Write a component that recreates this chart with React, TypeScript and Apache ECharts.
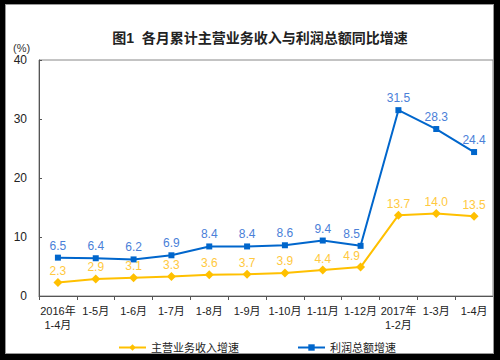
import React, { useEffect, useRef } from "react";
import * as echarts from "echarts";

const categories = [
  "2016年\n1-4月", "1-5月", "1-6月", "1-7月", "1-8月", "1-9月",
  "1-10月", "1-11月", "1-12月", "2017年\n1-2月", "1-3月", "1-4月",
];
const revenueGrowth = [2.3, 2.9, 3.1, 3.3, 3.6, 3.7, 3.9, 4.4, 4.9, 13.7, 14.0, 13.5];
const profitGrowth = [6.5, 6.4, 6.2, 6.9, 8.4, 8.4, 8.6, 9.4, 8.5, 31.5, 28.3, 24.4];
const seriesNames = ["主营业务收入增速", "利润总额增速"];
const titleText = "图1  各月累计主营业务收入与利润总额同比增速";

const FONT = "'Liberation Sans', 'Noto Sans CJK SC', sans-serif";

const withOffset = (vals: number[], idx: number, dx: number) =>
  vals.map((v, i) => (i === idx ? { value: v, label: { offset: [dx, 0] } } : v));

export default function App() {
  const ref = useRef<HTMLDivElement>(null);
  useEffect(() => {
    document.body.style.margin = "0";
    const chart = echarts.init(ref.current!, null, { renderer: "svg" });
    chart.setOption({
      animation: false,
      backgroundColor: "#fff",
      textStyle: { fontFamily: FONT },
      title: {
        text: titleText,
        left: 255,
        textAlign: "center",
        top: 26,
        textStyle: { fontSize: 14, fontWeight: "bold", color: "#222", fontFamily: FONT },
      },
      graphic: [
        {
          type: "text",
          left: 13,
          top: 42,
          style: { text: "(%)", fontSize: 11, fill: "#333", fontFamily: FONT },
        },
      ],
      legend: {
        left: 113,
        top: 337,
        itemWidth: 27,
        itemHeight: 8,
        itemGap: 58,
        textStyle: { fontSize: 11, color: "#222", fontFamily: FONT },
        data: seriesNames,
      },
      grid: {
        left: 39,
        right: 7,
        top: 60,
        bottom: 64,
        show: true,
        borderColor: "#888",
        borderWidth: 1,
      },
      xAxis: {
        type: "category",
        data: categories,
        boundaryGap: true,
        axisLine: { lineStyle: { color: "#555" } },
        axisTick: { show: true, length: 4, lineStyle: { color: "#555" } },
        axisLabel: {
          interval: 0,
          fontSize: 11,
          color: "#222",
          margin: 8,
          lineHeight: 14,
          fontFamily: FONT,
        },
      },
      yAxis: {
        type: "value",
        min: 0,
        max: 40,
        interval: 10,
        axisLine: { show: true, lineStyle: { color: "#555" } },
        axisTick: { show: true, inside: true, length: 3, lineStyle: { color: "#555" } },
        splitLine: { show: false },
        axisLabel: { fontSize: 12, color: "#222", margin: 12, fontFamily: FONT },
      },
      series: [
        {
          name: seriesNames[1],
          type: "line",
          data: withOffset(profitGrowth, 8, -9),
          symbol: "rect",
          symbolSize: 6,
          itemStyle: { color: "#0066cc" },
          lineStyle: { color: "#0066cc", width: 2 },
          label: {
            show: true,
            position: "top",
            distance: 3,
            fontSize: 12,
            color: "#4a80d8",
            fontFamily: FONT,
            formatter: (p: any) => Number(p.value).toFixed(1),
          },
        },
        {
          name: seriesNames[0],
          type: "line",
          data: withOffset(revenueGrowth, 8, -9),
          symbol: "diamond",
          symbolSize: 9,
          itemStyle: { color: "#ffc000" },
          lineStyle: { color: "#ffc000", width: 2 },
          label: {
            show: true,
            position: "top",
            distance: 1,
            fontSize: 12,
            color: "#ffc940",
            fontFamily: FONT,
            formatter: (p: any) => Number(p.value).toFixed(1),
          },
        },
      ],
    });
    return () => chart.dispose();
  }, []);
  return (
    <div style={{ position: "absolute", left: 0, top: 0, width: 500, height: 360, background: "#000" }}>
      <div
        style={{
          position: "absolute",
          left: 5,
          top: 4,
          width: 489,
          height: 350,
          background: "#fff",
          overflow: "hidden",
        }}
      >
        <div
          ref={ref}
          style={{ position: "absolute", left: -5, top: -4, width: 500, height: 360 }}
        />
      </div>
      <div
        style={{
          position: "absolute",
          left: 5,
          top: 4,
          width: 489,
          height: 350,
          boxShadow: "inset 0 0 0 1px #999",
          pointerEvents: "none",
        }}
      />
    </div>
  );
}
